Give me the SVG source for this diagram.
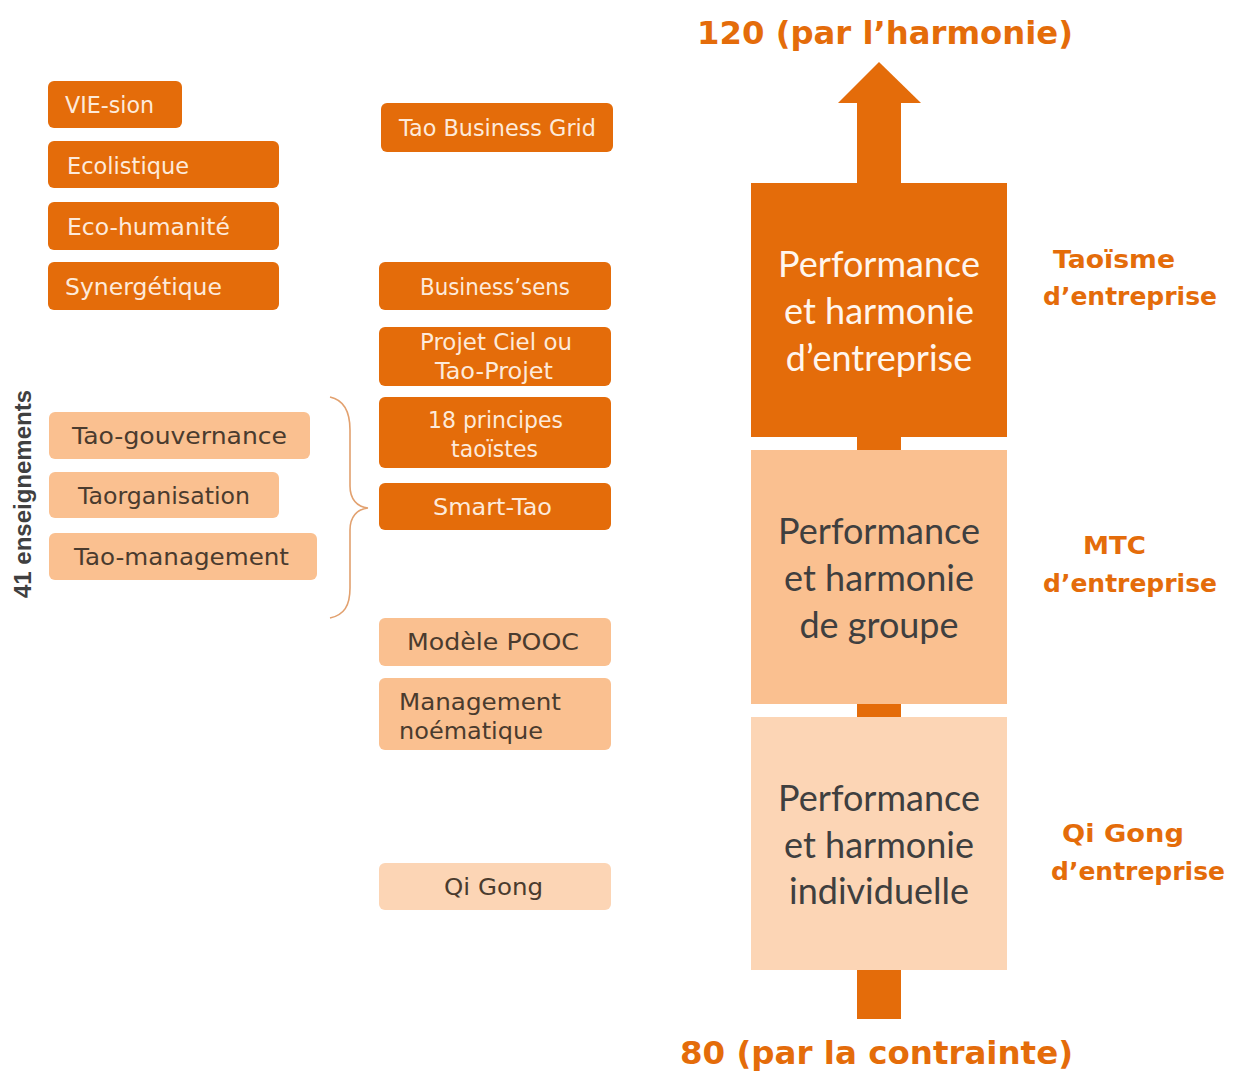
<svg xmlns="http://www.w3.org/2000/svg" width="1235" height="1073" viewBox="0 0 1235 1073">
<style>
  .dk { fill: #E46C0A; }
  .lt { fill: #FAC090; }
  .xl { fill: #FCD5B5; }
  .tw { font-family: "DejaVu Sans", "Liberation Sans", sans-serif; font-size: 23px; fill: #FDEADA; }
  .tb { font-family: "DejaVu Sans", "Liberation Sans", sans-serif; font-size: 23px; fill: #4A3B2E; }
  .big { font-family: Lato, "Open Sans", sans-serif; font-size: 36px; text-anchor: middle; }
  .lab { font-family: "DejaVu Sans", "Liberation Sans", sans-serif; font-weight: bold; font-size: 25px; fill: #E46C0A; }
  .ttl { font-family: "DejaVu Sans", "Liberation Sans", sans-serif; font-weight: bold; font-size: 32px; fill: #E46C0A; }
</style>
<rect width="1235" height="1073" fill="#FFFFFF"/>

<g id="connectors">
  <polygon class="dk" points="879,62 838,103 921,103"/>
  <rect class="dk" x="857" y="102" width="44" height="82"/>
  <rect class="dk" x="857" y="436" width="44" height="15"/>
  <rect class="dk" x="857" y="703" width="44" height="15"/>
  <rect class="dk" x="857" y="969" width="44" height="50"/>
  <path d="M330,397 C344,400 350,412 350,430 L350,486 C350,499 357,507 368,508 C357,509 350,517 350,530 L350,588 C350,606 344,615 330,618" fill="none" stroke="#E2A16F" stroke-width="1.6"/>
</g>

<g id="title-top"><text class="ttl" x="697" y="44" textLength="376" lengthAdjust="spacingAndGlyphs">120 (par l’harmonie)</text></g>
<g id="title-bottom"><text class="ttl" x="680" y="1064" textLength="393" lengthAdjust="spacingAndGlyphs">80 (par la contrainte)</text></g>

<g id="label-41"><text transform="translate(31,494) rotate(-90)" text-anchor="middle" font-family="'Liberation Sans', Arial, sans-serif" font-weight="bold" font-size="24" fill="#404040">41 enseignements</text></g>

<g id="vie-sion"><rect class="dk" x="48" y="81" width="134" height="47" rx="6"/><text class="tw" x="65" y="113" textLength="89" lengthAdjust="spacingAndGlyphs">VIE-sion</text></g>
<g id="ecolistique"><rect class="dk" x="48" y="141" width="231" height="47" rx="6"/><text class="tw" x="67" y="174" textLength="122" lengthAdjust="spacingAndGlyphs">Ecolistique</text></g>
<g id="eco-humanite"><rect class="dk" x="48" y="202" width="231" height="48" rx="6"/><text class="tw" x="67" y="235" textLength="163" lengthAdjust="spacingAndGlyphs">Eco-humanité</text></g>
<g id="synergetique"><rect class="dk" x="48" y="262" width="231" height="48" rx="6"/><text class="tw" x="65" y="295" textLength="157" lengthAdjust="spacingAndGlyphs">Synergétique</text></g>

<g id="tao-gouvernance"><rect class="lt" x="49" y="412" width="261" height="47" rx="6"/><text class="tb" x="72" y="444" textLength="215" lengthAdjust="spacingAndGlyphs">Tao-gouvernance</text></g>
<g id="taorganisation"><rect class="lt" x="49" y="472" width="230" height="46" rx="6"/><text class="tb" x="78" y="504" textLength="172" lengthAdjust="spacingAndGlyphs">Taorganisation</text></g>
<g id="tao-management"><rect class="lt" x="49" y="533" width="268" height="47" rx="6"/><text class="tb" x="74" y="565" textLength="215" lengthAdjust="spacingAndGlyphs">Tao-management</text></g>

<g id="tao-business-grid"><rect class="dk" x="381" y="103" width="232" height="49" rx="6"/><text class="tw" x="399" y="136" textLength="197" lengthAdjust="spacingAndGlyphs">Tao Business Grid</text></g>
<g id="business-sens"><rect class="dk" x="379" y="262" width="232" height="48" rx="6"/><text class="tw" x="420" y="295" textLength="150" lengthAdjust="spacingAndGlyphs">Business’sens</text></g>
<g id="projet-ciel"><rect class="dk" x="379" y="327" width="232" height="59" rx="6"/><text class="tw" x="420" y="350" textLength="152" lengthAdjust="spacingAndGlyphs">Projet Ciel ou</text><text class="tw" x="435" y="379" textLength="118" lengthAdjust="spacingAndGlyphs">Tao-Projet</text></g>
<g id="principes"><rect class="dk" x="379" y="397" width="232" height="71" rx="6"/><text class="tw" x="428" y="428" textLength="135" lengthAdjust="spacingAndGlyphs">18 principes</text><text class="tw" x="451" y="457" textLength="87" lengthAdjust="spacingAndGlyphs">taoïstes</text></g>
<g id="smart-tao"><rect class="dk" x="379" y="483" width="232" height="47" rx="6"/><text class="tw" x="433" y="515" textLength="119" lengthAdjust="spacingAndGlyphs">Smart-Tao</text></g>
<g id="modele-pooc"><rect class="lt" x="379" y="618" width="232" height="48" rx="6"/><text class="tb" x="407" y="650" textLength="172" lengthAdjust="spacingAndGlyphs">Modèle POOC</text></g>
<g id="management-noematique"><rect class="lt" x="379" y="678" width="232" height="72" rx="6"/><text class="tb" x="399" y="710" textLength="162" lengthAdjust="spacingAndGlyphs">Management</text><text class="tb" x="399" y="739" textLength="144" lengthAdjust="spacingAndGlyphs">noématique</text></g>
<g id="qi-gong"><rect class="xl" x="379" y="863" width="232" height="47" rx="6"/><text class="tb" x="444" y="895" textLength="99" lengthAdjust="spacingAndGlyphs">Qi Gong</text></g>

<g id="perf-entreprise"><rect class="dk" x="751" y="183" width="256" height="254"/><text class="big" x="879" y="277" fill="#FFF6EE">Performance</text><text class="big" x="879" y="324" fill="#FFF6EE">et harmonie</text><text class="big" x="879" y="371" fill="#FFF6EE">d’entreprise</text></g>
<g id="perf-groupe"><rect class="lt" x="751" y="450" width="256" height="254"/><text class="big" x="879" y="544" fill="#3F3F3F">Performance</text><text class="big" x="879" y="591" fill="#3F3F3F">et harmonie</text><text class="big" x="879" y="638" fill="#3F3F3F">de groupe</text></g>
<g id="perf-individuelle"><rect class="xl" x="751" y="717" width="256" height="253"/><text class="big" x="879" y="811" fill="#3F3F3F">Performance</text><text class="big" x="879" y="858" fill="#3F3F3F">et harmonie</text><text class="big" x="879" y="904" fill="#3F3F3F">individuelle</text></g>

<g id="taoisme-entreprise"><text class="lab" x="1053" y="268" textLength="122" lengthAdjust="spacingAndGlyphs">Taoïsme</text><text class="lab" x="1043" y="305" textLength="174" lengthAdjust="spacingAndGlyphs">d’entreprise</text></g>
<g id="mtc-entreprise"><text class="lab" x="1083" y="554" textLength="63" lengthAdjust="spacingAndGlyphs">MTC</text><text class="lab" x="1043" y="592" textLength="174" lengthAdjust="spacingAndGlyphs">d’entreprise</text></g>
<g id="qigong-entreprise"><text class="lab" x="1062" y="842" textLength="122" lengthAdjust="spacingAndGlyphs">Qi Gong</text><text class="lab" x="1051" y="880" textLength="174" lengthAdjust="spacingAndGlyphs">d’entreprise</text></g>
</svg>
